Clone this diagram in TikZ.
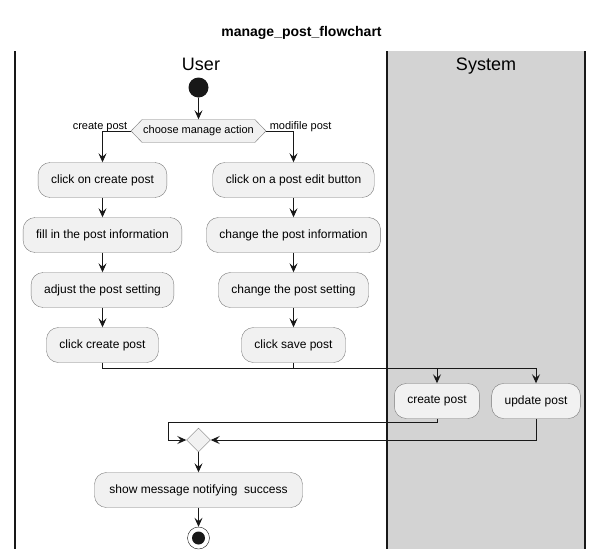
\documentclass[tikz,border=0pt]{standalone}
\usepackage{fontspec}
\setmainfont{Liberation Sans}
\usetikzlibrary{shapes.geometric,shapes.symbols,arrows.meta}
\definecolor{lanegray}{HTML}{D3D3D3}
\definecolor{actfill}{HTML}{F1F1F1}
\definecolor{ink}{HTML}{181818}
\definecolor{edge}{HTML}{7A7A7A}

\begin{document}
\begin{tikzpicture}[>={Stealth[length=9pt,width=8pt,inset=3.5pt]}, x=1pt, y=-1pt,
    act/.style={draw=edge, fill=actfill, rounded corners=12pt, minimum height=35pt,
        inner xsep=13pt, font=\fontsize{12}{14}\selectfont},
    flow/.style={draw=ink, line width=0.9pt},
    lane/.style={draw=ink, line width=1.3pt},
    small/.style={font=\fontsize{11}{13}\selectfont}]

    \useasboundingbox (0,0) rectangle (603,560);
    \fill[lanegray] (387,51) rectangle (585,549);
    \draw[lane] (15,51) -- (15,549);
    \draw[lane] (387,51) -- (387,549);
    \draw[lane] (585,51) -- (585,549);

    \draw(301.5,36) node[anchor=base] (title) {\fontsize{14}{16}\selectfont\bfseries manage\_post\_flowchart};
    \draw(201,70) node[anchor=base] (user) {\fontsize{18}{20}\selectfont User};
    \draw(486,70) node[anchor=base] (system) {\fontsize{18}{20}\selectfont System};

    \draw(198.5,87.5) node[circle, fill=ink, minimum size=20pt, inner sep=0pt] (start) {};
    \draw(198.5,131) node[signal, signal to=west and east, signal pointer angle=92,
        draw=edge, fill=actfill, small, inner xsep=1pt, minimum height=23pt] (choose) {choose manage action};
    \draw(choose.west) node[small, anchor=base east, yshift=2pt] {create post};
    \draw(choose.east) node[small, anchor=base west, yshift=2pt] {modifile post};

    \draw(102.5,180) node[act] (c1) {click on create post};
    \draw(102.5,235) node[act] (c2) {fill in the post information};
    \draw(102.5,290) node[act] (c3) {adjust the post setting};
    \draw(102.5,345) node[act] (c4) {click create post};

    \draw(293.5,180) node[act] (e1) {click on a post edit button};
    \draw(293.5,235) node[act] (e2) {change the post information};
    \draw(293.5,290) node[act] (e3) {change the post setting};
    \draw(293.5,345) node[act] (e4) {click save post};

    \draw(437,401) node[act] (cp) {create post};
    \draw(536,401) node[act] (up) {update post};

    \draw(198.5,440) node[diamond, draw=edge, fill=actfill, minimum size=24pt, inner sep=0pt] (merge) {};
    \draw(198.5,490) node[act, inner xsep=15pt] (msg) {show message notifying\ \ success};
    \draw(198.5,538) node[circle, draw=ink, fill=white, minimum size=22pt, inner sep=0pt] (stop) {};
    \fill[ink] (stop) circle (6.5pt);

    \coordinate (bus) at (0,368);
    \coordinate (loop) at (168,422);

    \draw[flow, ->] (start) -- (choose);
    \draw[flow, ->] (choose.west) -| (c1);
    \draw[flow, ->] (choose.east) -| (e1);
    \draw[flow, ->] (c1) -- (c2);
    \draw[flow, ->] (c2) -- (c3);
    \draw[flow, ->] (c3) -- (c4);
    \draw[flow, ->] (e1) -- (e2);
    \draw[flow, ->] (e2) -- (e3);
    \draw[flow, ->] (e3) -- (e4);
    \draw[flow, ->] (c4.south) -- (c4.south |- bus) -| (up);
    \draw[flow] (e4.south) -- (e4.south |- bus);
    \draw[flow, ->] (cp.north |- bus) -- (cp);
    \draw[flow, ->] (cp.south) |- (loop) |- (merge.west);
    \draw[flow, ->] (up.south) |- (merge.east);
    \draw[flow, ->] (merge) -- (msg);
    \draw[flow, ->] (msg) -- (stop);

\end{tikzpicture}
\end{document}
